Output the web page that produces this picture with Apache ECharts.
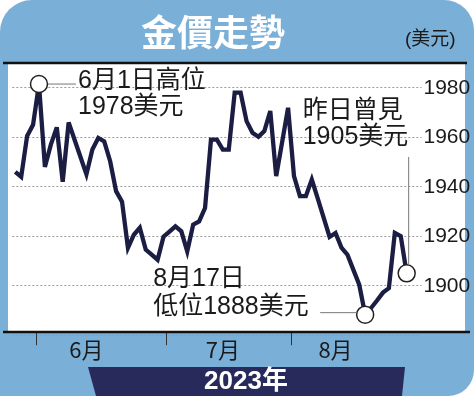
<!DOCTYPE html>
<html><head><meta charset="utf-8">
<script src="https://cdn.jsdelivr.net/npm/echarts@6/dist/echarts.min.js"></script>
<style>html,body{margin:0;padding:0;background:#fff}#c{width:474px;height:396px}</style>
</head><body><div id="c"></div>
<script>
// Trading days (weekdays) late May – Aug 2023; last two are empty padding slots
const dates = [
  '05-26','05-29','05-30','05-31',
  '06-01','06-02','06-05','06-06','06-07','06-08','06-09','06-12','06-13','06-14','06-15','06-16','06-19','06-20','06-21','06-22','06-23','06-26','06-27','06-28','06-29','06-30',
  '07-03','07-04','07-05','07-06','07-07','07-10','07-11','07-12','07-13','07-14','07-17','07-18','07-19','07-20','07-21','07-24','07-25','07-26','07-27','07-28','07-31',
  '08-01','08-02','08-03','08-04','08-07','08-08','08-09','08-10','08-11','08-14','08-15','08-16','08-17','08-18','08-21','08-22','08-23','08-24','08-25','08-28',
  '08-29','08-30'
];
const pricesMay  = [1946, 1944, 1960.5, 1965];
const pricesJun  = [1981.5, 1948, 1957, 1964, 1942, 1966, 1959, 1952, 1945, 1955, 1959.7, 1958.3, 1950.3, 1938.2, 1934, 1915.3, 1920.6, 1923.4, 1914.6, 1912.6, 1910.5, 1919.8];
const pricesJul  = [1921.9, 1924, 1922, 1913.9, 1924.7, 1926, 1931.4, 1959, 1959, 1955, 1955, 1978, 1978, 1966.5, 1961.8, 1960.2, 1962.5, 1970.6, 1944.3, 1958, 1971.9];
const pricesAug  = [1944.3, 1936.2, 1936.2, 1942.9, 1935.3, 1927.5, 1919.7, 1921.3, 1915.4, 1912.6, 1906.5, 1900.4, 1888.3, 1891, 1894, 1897.2, 1899, 1921.3, 1920, 1905];
const prices = pricesMay.concat(pricesJun, pricesJul, pricesAug, [null, null]);

const yTickLabels = [1900, 1920, 1940, 1960, 1980];
const monthStarts = ['06-01', '07-03', '08-01'];
const monthLabelAt = ['06-13', '07-14', '08-10'];
const monthNames = ['6月', '7月', '8月'];

const title = '金價走勢';
const unit = '(美元)';
const yearText = '2023年';
const highDate = '06-01', highText = '6月1日高位\n1978美元';
const lowDate = '08-17', lowText = '8月17日\n低位1888美元';
const lastDate = '08-28', lastText = '昨日曾見\n1905美元';
const markedDates = [highDate, lowDate, lastDate];

const FONT = "'Liberation Sans','Noto Sans CJK TC',sans-serif";
const CJK = "'Noto Sans CJK TC','Liberation Sans',sans-serif";
const BLUE = '#7aafd8';
const INK = '#1b1d42';

const chart = echarts.init(document.getElementById('c'), null, {renderer: 'canvas'});
const valAt = d => prices[dates.indexOf(d)];

chart.setOption({
  animation: false,
  backgroundColor: '#ffffff',
  grid: {left: 12.3, right: 52.5, top: 63, bottom: 60.8, containLabel: false},
  xAxis: {
    type: 'category', data: dates, boundaryGap: true, offset: -3,
    axisLine: {show: false},
    axisTick: {show: true, length: 13, interval: (i, v) => monthStarts.includes(v), lineStyle: {color: '#333', width: 1}},
    axisLabel: {
      interval: (i, v) => monthLabelAt.includes(v),
      formatter: v => { const k = monthLabelAt.indexOf(v); return k >= 0 ? monthNames[k] : ''; },
      fontSize: 22, color: '#1a1a1a', fontFamily: CJK, margin: 6
    },
    splitLine: {show: false}
  },
  yAxis: {
    type: 'value', position: 'right', min: 1880, max: 1990, interval: 20,
    axisLine: {show: false}, axisTick: {show: false},
    axisLabel: {
      formatter: v => yTickLabels.includes(v) ? String(v) : '',
      fontSize: 21, color: '#1a1a1a', margin: 2,
      fontFamily: "'Liberation Sans Narrow','Liberation Sans',sans-serif"
    },
    splitLine: {show: true, lineStyle: {type: [2, 2], color: '#9a9a9a', width: 1}}
  },
  series: [{
    type: 'line', data: prices, showSymbol: false, connectNulls: false, z: 3,
    lineStyle: {color: INK, width: 4.3, join: 'miter', miterLimit: 4}
  }, {
    type: 'scatter', z: 20, symbol: 'circle', symbolSize: 17,
    data: markedDates.map(d => [d, valAt(d)]),
    itemStyle: {color: '#ffffff', borderColor: '#222', borderWidth: 1.5, opacity: 1}
  }]
});

const px = d => chart.convertToPixel({xAxisIndex: 0, yAxisIndex: 0}, [d, valAt(d)]);
const H = px(highDate), L = px(lowDate), E = px(lastDate);
const lead = {stroke: '#777', lineWidth: 1};
const noteStyle = (x, y, text, lh) => ({
  type: 'text', z: 120, style: {x, y, text, fill: '#1a1a1a', font: '25px ' + FONT, lineHeight: lh, verticalAlign: 'top', align: 'left'}
});
// right end of the x axis (the library adds a closing tick there; the reference has none)
const axisEnd = chart.convertToPixel({xAxisIndex: 0}, dates[dates.length - 1]) + 3;

chart.setOption({
  graphic: [
    {type: 'rect', z: -100, shape: {x: 0, y: 0, width: 474, height: 396, r: [32, 30, 26, 0]}, style: {fill: BLUE}},
    {type: 'rect', z: -90, shape: {x: 8, y: 64, width: 457, height: 268}, style: {fill: '#ffffff'}},
    {type: 'rect', z: 100, shape: {x: axisEnd - 3, y: 333, width: 6, height: 15}, style: {fill: BLUE}},
    {type: 'line', z: 100, shape: {x1: 3, y1: 63, x2: 467, y2: 63}, style: {stroke: '#111', lineWidth: 2.5}},
    {type: 'line', z: 100, shape: {x1: 3, y1: 332, x2: 470, y2: 332}, style: {stroke: '#111', lineWidth: 2.5}},
    {type: 'text', z: 100, style: {x: 213, y: 32, text: title, fill: '#ffffff', font: 'bold 36px ' + CJK, align: 'center', verticalAlign: 'middle'}},
    {type: 'text', z: 100, style: {x: 405, y: 40, text: unit, fill: '#1a1a1a', font: '19px ' + FONT, align: 'left', verticalAlign: 'middle'}},
    {type: 'polygon', z: 100, shape: {points: [[88, 367], [405, 367], [402, 396], [96, 396]]}, style: {fill: '#272a5b'}},
    {type: 'text', z: 101, style: {x: 246, y: 382, text: yearText, fill: '#ffffff', font: 'bold 26px ' + FONT, align: 'center', verticalAlign: 'middle'}},
    {type: 'line', z: 110, shape: {x1: H[0] + 9, y1: H[1], x2: H[0] + 37, y2: H[1]}, style: lead},
    {type: 'line', z: 110, shape: {x1: L[0] - 45, y1: L[1] - 2, x2: L[0] - 9, y2: L[1] - 2}, style: lead},
    {type: 'line', z: 110, shape: {x1: E[0] + 2, y1: E[1] - 9, x2: E[0] + 2, y2: 157}, style: lead},
    noteStyle(H[0] + 39, H[1] - 16, highText, 26),
    noteStyle(L[0] - 212, L[1] - 50, lowText, 28),
    noteStyle(E[0] - 104, E[1] - 175, lastText, 26)
  ]
});
</script></body></html>
